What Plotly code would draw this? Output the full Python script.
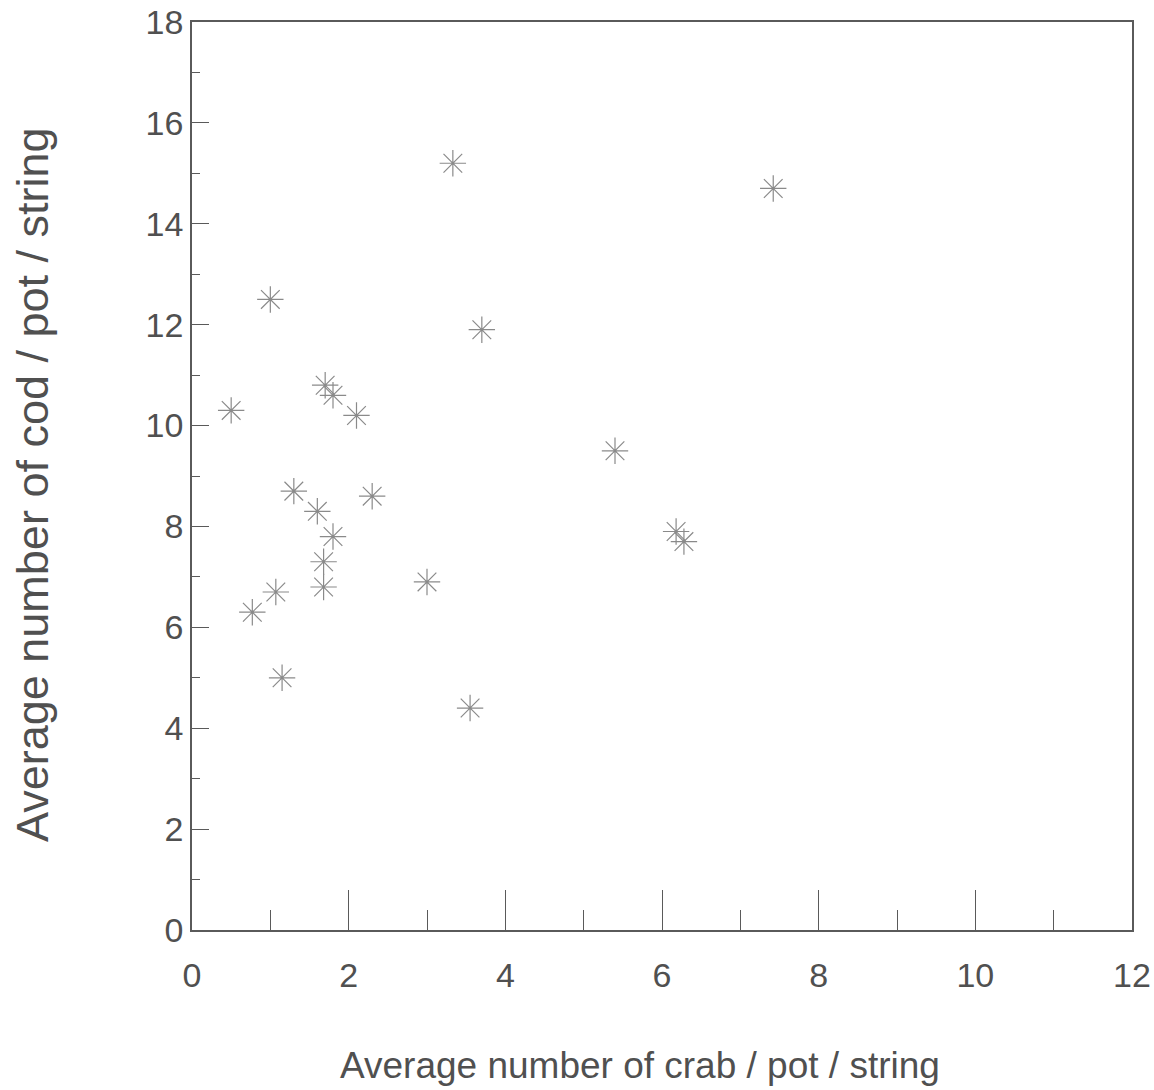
import plotly.graph_objects as go

crab = [0.5, 1.0, 1.3, 0.77, 1.07, 1.15, 1.6, 1.7, 1.8, 1.8, 1.68, 1.68, 2.1, 2.3,
        3.0, 3.33, 3.7, 3.55, 5.4, 6.18, 6.28, 7.42]
cod = [10.3, 12.5, 8.7, 6.3, 6.7, 5.0, 8.3, 10.8, 10.6, 7.8, 7.3, 6.8, 10.2, 8.6,
       6.9, 15.2, 11.9, 4.4, 9.5, 7.9, 7.7, 14.7]

x_ticks = [0, 2, 4, 6, 8, 10, 12]
y_ticks = [0, 2, 4, 6, 8, 10, 12, 14, 16, 18]

x_title = "Average number of crab / pot / string"
y_title = "Average number of cod / pot / string"

FONT = "Liberation Sans, Arial, sans-serif"
AX = "#5a5a5a"
TXT = "#505050"

W, H = 1154, 1090
L, R, T, B = 192, 22, 22, 160
PW, PH = W - L - R, H - T - B

fig = go.Figure()
fig.add_trace(go.Scatter(
    x=crab, y=cod, mode="markers",
    marker=dict(symbol="asterisk-open", size=22, color="#8a8a8a",
                line=dict(width=1.2, color="#8a8a8a")),
    showlegend=False,
))

fig.update_layout(
    width=W, height=H,
    margin=dict(l=L, r=R, t=T, b=B),
    paper_bgcolor="white", plot_bgcolor="white",
    font=dict(family=FONT, color=TXT),
    annotations=[
        dict(text=x_title, xref="paper", yref="paper",
             x=(640 - L) / PW, y=-(1065 - (T + PH)) / PH,
             xanchor="center", yanchor="middle", showarrow=False,
             font=dict(size=37, family=FONT, color=TXT)),
        dict(text=y_title, xref="paper", yref="paper",
             x=-(L - 32) / PW, y=((T + PH) - 485) / PH,
             xanchor="center", yanchor="middle", showarrow=False, textangle=-90,
             font=dict(size=45, family=FONT, color=TXT)),
    ],
)
fig.update_xaxes(
    range=[0, 12], tickvals=x_ticks, ticktext=[str(v) for v in x_ticks],
    ticks="inside", ticklen=40, tickwidth=1.2, tickcolor=AX,
    minor=dict(ticks="inside", ticklen=20, dtick=1, tick0=0, tickwidth=1, tickcolor=AX),
    showline=True, linecolor=AX, linewidth=1.5, mirror=True,
    showgrid=False, zeroline=False, automargin=False,
    tickfont=dict(size=34, family=FONT, color=TXT),
    ticklabelstandoff=14, ticklabeloverflow="allow",
)
fig.update_yaxes(
    range=[0, 18], tickvals=y_ticks, ticktext=[str(v) for v in y_ticks],
    ticks="inside", ticklen=17, tickwidth=1.2, tickcolor=AX,
    minor=dict(ticks="inside", ticklen=8, dtick=1, tick0=0, tickwidth=1, tickcolor=AX),
    showline=True, linecolor=AX, linewidth=1.5, mirror=True,
    showgrid=False, zeroline=False, automargin=False,
    tickfont=dict(size=34, family=FONT, color=TXT),
    ticklabelstandoff=0, ticklabeloverflow="allow",
)

fig.write_html(
    "out.html",
    config={"displayModeBar": False},
    post_script="document.body.style.margin='0';document.body.style.overflow='hidden';",
)
